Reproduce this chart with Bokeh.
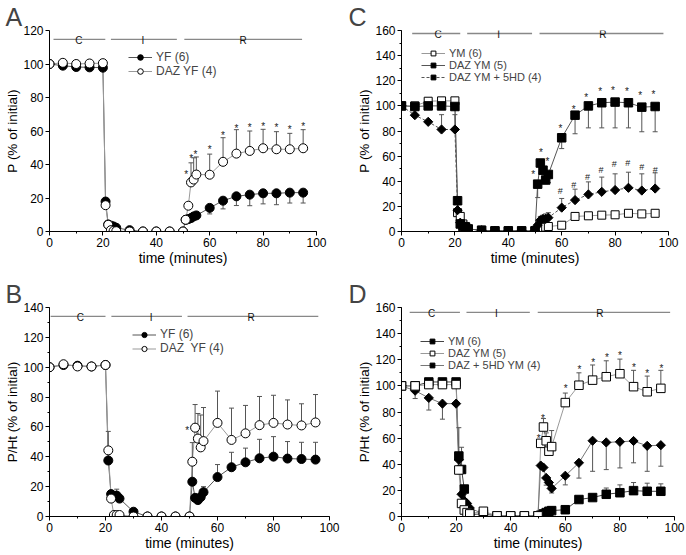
from bokeh.plotting import figure
from bokeh.layouts import column, row
from bokeh.models import SingleIntervalTicker, Range1d, Legend, LegendItem
from bokeh.embed import file_html
from bokeh.resources import INLINE
from bokeh.core.properties import value

FONT = "Liberation Sans"

# ---------------- data ----------------
time = [0, 5, 10, 15, 20, 21, 22, 23, 24, 25, 30, 35, 40, 45, 50,
        51, 52, 53, 54, 55, 60, 65, 70, 75, 80, 85, 90, 95]

# Panel A : P (% of initial)
A_YF = [100, 99, 98.2, 98, 97.8, 17.9, 4.2, 3.5, 3, 2.2, 0.8, 0, 0, 0, 0,
        7, 7.4, 8, 9, 9.6, 14.1, 18.4, 21, 22, 22.8, 22.8, 23.2, 23.2]
A_YF_err_t = [60, 65, 70, 75, 80, 85, 90, 95]
A_YF_err = [10.5, 13.5, 15.5, 15.4, 16.5, 16, 17, 17]
A_DAZ = [100, 100.7, 100, 100.3, 100.5, 15.7, 4, 0.8, 0.3, 0.2, 0, 0, 0, 0, 0,
         7, 15.4, 29.3, 31, 34, 33.9, 41.6, 46.5, 48.1, 49.7, 49.1, 49.1, 49.7]
A_DAZ_err_t = [53, 54, 55, 60, 65, 70, 75, 80, 85, 90, 95]
A_DAZ_err = [41, 44, 44.5, 46.2, 56, 60.8, 60, 61, 59.6, 58.6, 60.8]
A_star_t = [51.2, 53.1, 54.7, 60, 65, 70, 75, 80, 85, 90, 95]
A_star_y = [35.8, 45.2, 47.7, 50.5, 59, 63, 63.6, 64.6, 64, 62.4, 64.4]

# Panel B : P/Ht (% of initial)
B_YF = [100, 101.5, 101, 100.5, 101.5, 37.5, 15, 13.9, 14, 12, 3.2, 0, 0, 0, 0,
        23.3, 12.5, 11, 13, 16.3, 26.4, 33, 36.3, 39, 40.1, 38.8, 38.5, 38.1]
B_YF_err_t = [21, 24, 51, 55, 60, 65, 70, 75, 80, 85, 90, 95]
B_YF_err = [57, 18.3, 49.5, 20, 34.8, 43, 45.8, 51.7, 53.5, 50.2, 49.7, 49.7]
B_DAZ = [100, 102, 100.5, 100.5, 101.5, 44.3, 12, 1, 1, 1, 0, 0, 0, 0, 0,
         36.7, 59.5, 52.2, 46.3, 50.5, 62.7, 51.3, 55.7, 61.2, 62.7, 61.6, 61, 63]
B_DAZ_err_t = [5, 20, 52, 53, 54, 55, 60, 65, 70, 75, 80, 85, 90, 95]
B_DAZ_err = [103.5, 103, 75, 69, 68, 73, 84, 72.6, 74.4, 80.4, 81.2, 78.1, 75.5, 81.7]
B_star_t = [49.2]
B_star_y = [59.6]

# Panel C : P (% of initial)
C_YM = [100, 100, 103.7, 104, 104, 15, 12, 6, 4, 2, 1, 0.5, 0.5, 0.5, 0.5,
        1, 2, 3, 3.5, 4, 5, 12, 12.5, 13, 13.3, 14.5, 14, 14.5]
C_YM_err_t = [22, 65, 70, 75, 80, 85, 90, 95]
C_YM_err = [15, 14, 14.5, 15, 15.3, 17, 16, 16.5]
C_DAZ = [100, 99.5, 100, 100, 99.5, 24.5, 6, 4, 3, 2, 1, 0.5, 0.5, 0.5, 0.5,
         37.7, 54.5, 48.8, 41, 45.4, 74.6, 92.6, 100, 102.5, 103, 102.5, 99, 99.5]
C_DAZ_err_t = [51, 54, 55, 60, 65, 70, 75, 80, 85, 90, 95]
C_DAZ_err = [27, 38, 39, 66, 77.8, 82.5, 82.5, 82.5, 82.5, 79.4, 79.4]
C_5HD = [100, 92.6, 87.3, 81.2, 81.2, 17, 7, 5, 3, 2, 1, 0.5, 0.5, 0.5, 0.5,
         5, 9, 10, 10, 11, 19, 25, 29.5, 31.6, 33, 34.8, 32.6, 34.2]
C_5HD_err_t = [15, 20, 52, 53, 54, 55, 60, 65, 70, 75, 80, 85, 90, 95]
C_5HD_err = [93, 93, 12, 13, 14, 15, 26.3, 33.7, 39.5, 43.3, 45.9, 47.2, 45.9, 46.7]
C_star_t = [49.3, 52.2, 54.7, 59.5, 64.5, 69.2, 74.4, 79.2, 84.4, 89.4, 94.4]
C_star_y = [47.8, 65.5, 57.8, 84, 99.5, 108.8, 114.1, 114.6, 113.6, 111, 111.5]
C_hash_t = [59.5, 64.5, 69.7, 74.7, 79.7, 84.7, 90, 95]
C_hash_y = [32.4, 37.1, 43.2, 48.8, 53.9, 54.6, 51.7, 49.1]

# Panel D : P/Ht (% of initial)
D_YM = [100, 100, 103, 103, 103, 46.3, 36, 21, 5, 1.5, 2, 0.5, 0.5, 0.5, 0.5,
        1, 2, 3, 4, 4.5, 5.2, 13, 14.5, 17, 18.2, 19.8, 19.3, 19.3]
D_YM_err_t = [21, 22, 75, 80, 85, 90, 95]
D_YM_err = [68, 53, 21.8, 24.2, 26, 25.5, 25]
D_DAZ = [100, 100, 101, 101, 101, 35.6, 10, 5, 3, 2, 4, 0.5, 0.5, 0.5, 0.5,
         56, 68.5, 58, 50, 53.5, 87.2, 100.5, 104.4, 107, 109.3, 99.4, 95.5, 98.1]
D_DAZ_err_t = [52, 53, 55, 60, 65, 70, 75, 80, 85, 90, 95]
D_DAZ_err = [75, 64, 65.8, 94.5, 110, 116, 119.2, 120.5, 111.9, 107.5, 111.9]
D_5HD = [100, 96.3, 90.8, 86.4, 86.4, 43.4, 17, 12, 10, 6.5, 2, 0.5, 0.5, 0.5, 0.5,
         39, 37.5, 29.5, 26, 21.5, 31.2, 41.1, 58, 56.7, 57.2, 57.8, 54.1, 54.6]
D_5HD_err_t = [5, 10, 15, 53, 55, 60, 65, 70, 75, 80, 85, 90, 95]
D_5HD_err = [90.3, 81.5, 74.5, 24, 18, 24.2, 29.4, 34.6, 35.9, 37.2, 41.1, 34.6, 38.5]
D_star_t = [50.3, 51.8, 60.1, 65.2, 70.2, 75.3, 80, 85.1, 90, 95.2]
D_star_y = [62, 77.5, 100.5, 114.5, 120, 124.4, 125.7, 116.6, 111.9, 115.8]

# protocol periods (Control / Ischemia / Reperfusion)
phase_labels = ["C", "I", "R"]
A_phase_start = [1.5, 23, 50.5]
A_phase_end = [20.9, 47.7, 94.6]
A_phase_mid = [11, 35, 72.5]
B_phase_start = [0.4, 22.1, 49.3]
B_phase_end = [20, 47.3, 96]
B_phase_mid = [11, 36.3, 72]
C_phase_start = [4, 24.6, 51.7]
C_phase_end = [22, 48.9, 98.1]
C_phase_mid = [13.7, 36.4, 75.4]
D_phase_start = [3, 23.8, 49.9]
D_phase_end = [21.4, 47, 98.4]
D_phase_mid = [11, 34.8, 72.7]

ERR_COLOR = "#555555"


def make_fig(width, height, ymax, yminor, borders, ylabel, letter, letter_off):
    l, r, t, b = borders
    p = figure(width=width, height=height, x_range=Range1d(0, 100), y_range=Range1d(0, ymax),
               output_backend="svg", toolbar_location=None, title=letter,
               min_border_left=l, min_border_right=r, min_border_top=t, min_border_bottom=b)
    p.title.text_font = FONT
    p.title.text_font_size = "25px"
    p.title.text_font_style = "normal"
    p.title.standoff = 0
    p.title.offset = letter_off
    p.outline_line_color = None
    p.grid.visible = False
    p.background_fill_color = "white"
    p.border_fill_color = "white"
    p.xaxis.ticker = SingleIntervalTicker(interval=20, num_minor_ticks=2)
    p.yaxis.ticker = SingleIntervalTicker(interval=20, num_minor_ticks=yminor)
    p.xaxis.axis_label = "time (minutes)"
    p.yaxis.axis_label = ylabel
    for ax in p.axis:
        ax.axis_line_color = "black"
        ax.major_tick_line_color = "black"
        ax.minor_tick_line_color = "black"
        ax.major_tick_in = 0
        ax.major_tick_out = 4
        ax.minor_tick_in = 0
        ax.minor_tick_out = 2
        ax.major_label_text_font = FONT
        ax.major_label_text_font_size = "12px"
        ax.major_label_text_color = "black"
        ax.major_label_standoff = 2
        ax.axis_label_text_font = FONT
        ax.axis_label_text_font_style = "normal"
        ax.axis_label_text_color = "black"
        ax.axis_label_standoff = 0
    p.xaxis.axis_label_text_font_size = "14px"
    p.yaxis.axis_label_text_font_size = "13.5px"
    return p


def phases(p, ybar, starts, ends, mids):
    p.segment(x0=starts, y0=[ybar] * 3, x1=ends, y1=[ybar] * 3, line_color="#888888", line_width=1.3)
    p.text(x=mids, y=[ybar] * 3, text=phase_labels, text_font=value(FONT), text_font_size="10px",
           text_align="center", text_baseline="alphabetic", y_offset=1, text_color="#111111")


def errbars(p, vals, et, eb):
    y0 = [vals[time.index(x)] for x in et]
    p.segment(x0=et, y0=y0, x1=et, y1=eb, line_color=ERR_COLOR, line_width=1)
    p.scatter(et, eb, marker="dash", size=5, line_color=ERR_COLOR, line_width=1)


def line(p, vals, color, dash="solid"):
    return p.line(time, vals, line_color=color, line_width=1, line_dash=dash)


def marks(p, vals, marker, fill, size, angle=0.0):
    return p.scatter(time, vals, marker=marker, size=size, fill_color=fill, line_color="black",
                     line_width=1, angle=angle)


def signs(p, xs, ys, ch, size, yoff):
    p.text(x=xs, y=ys, text=[ch] * len(xs), text_font=value(FONT), text_font_size=size,
           text_align="center", text_baseline="middle", y_offset=yoff, text_color="#222222")


def legend(p, items, loc, fs, h):
    leg = Legend(items=[LegendItem(label=lab, renderers=rs) for lab, rs in items], location=loc,
                 border_line_color=None, background_fill_alpha=0, padding=0, margin=0, spacing=0,
                 label_standoff=4, glyph_width=24, glyph_height=h, label_height=h,
                 label_text_font=FONT, label_text_font_size=fs)
    p.add_layout(leg)


DIAM = 0.785398

# ---------------- Panel A ----------------
pA = make_fig(343, 270, 120, 0, (49, 27, 19, 39), "P (% of initial)", "A", -44)
phases(pA, 114.7, A_phase_start, A_phase_end, A_phase_mid)
lA1 = line(pA, A_YF, "#555555")
lA2 = line(pA, A_DAZ, "#999999")
errbars(pA, A_YF, A_YF_err_t, A_YF_err)
errbars(pA, A_DAZ, A_DAZ_err_t, A_DAZ_err)
mA1 = marks(pA, A_YF, "circle", "black", 9)
mA2 = marks(pA, A_DAZ, "circle", "white", 9)
signs(pA, A_star_t, A_star_y, "*", "10px", 3)
legend(pA, [("YF (6)", [lA1, mA1]), ("DAZ YF (4)", [lA2, mA2])], (79, 153), "12px", 14)

# ---------------- Panel C ----------------
pC = make_fig(343, 270, 160, 2, (58, 18, 22, 37), "P (% of initial)", "C", -53)
phases(pC, 157.6, C_phase_start, C_phase_end, C_phase_mid)
lC1 = line(pC, C_YM, "#999999")
lC2 = line(pC, C_DAZ, "#555555")
lC3 = line(pC, C_5HD, "#555555", "3 2")
errbars(pC, C_YM, C_YM_err_t, C_YM_err)
errbars(pC, C_DAZ, C_DAZ_err_t, C_DAZ_err)
errbars(pC, C_5HD, C_5HD_err_t, C_5HD_err)
mC1 = marks(pC, C_YM, "square", "white", 8)
mC2 = marks(pC, C_DAZ, "square", "black", 8.5)
mC3 = marks(pC, C_5HD, "square", "black", 6.5, DIAM)
signs(pC, C_star_t, C_star_y, "*", "10px", 3)
signs(pC, C_hash_t, C_hash_y, "#", "9px", 0)
legend(pC, [("YM (6)", [lC1, mC1]), ("DAZ YM (5)", [lC2, mC2]),
            ("DAZ YM + 5HD (4)", [lC3, mC3])], (20, 148), "11px", 12)

# ---------------- Panel B ----------------
pB = make_fig(343, 285, 140, 2, (49, 14, 34, 39), "P/Ht (% of initial)", "B", -44)
phases(pB, 134, B_phase_start, B_phase_end, B_phase_mid)
lB1 = line(pB, B_YF, "#555555")
lB2 = line(pB, B_DAZ, "#999999")
errbars(pB, B_YF, B_YF_err_t, B_YF_err)
errbars(pB, B_DAZ, B_DAZ_err_t, B_DAZ_err)
mB1 = marks(pB, B_YF, "circle", "black", 9)
mB2 = marks(pB, B_DAZ, "circle", "white", 9)
signs(pB, B_star_t, B_star_y, "*", "10px", 3)
legend(pB, [("YF (6)", [lB1, mB1]), ("DAZ  YF (4)", [lB2, mB2])], (83, 161), "12px", 13)

# ---------------- Panel D ----------------
pD = make_fig(343, 285, 160, 2, (58, 12, 37, 39), "P/Ht (% of initial)", "D", -53)
phases(pD, 156.2, D_phase_start, D_phase_end, D_phase_mid)
lD1 = line(pD, D_YM, "#444444")
lD2 = line(pD, D_DAZ, "#999999")
lD3 = line(pD, D_5HD, "#777777")
errbars(pD, D_YM, D_YM_err_t, D_YM_err)
errbars(pD, D_DAZ, D_DAZ_err_t, D_DAZ_err)
errbars(pD, D_5HD, D_5HD_err_t, D_5HD_err)
mD3 = marks(pD, D_5HD, "square", "black", 6.5, DIAM)
mD1 = marks(pD, D_YM, "square", "black", 8.5)
mD2 = marks(pD, D_DAZ, "square", "white", 8.5)
signs(pD, D_star_t, D_star_y, "*", "10px", 3)
legend(pD, [("YM (6)", [lD1, mD1]), ("DAZ YM (5)", [lD2, mD2]),
            ("DAZ + 5HD YM (4)", [lD3, mD3])], (19, 145), "11px", 12)

layout = column(row(pA, pC), row(pB, pD))

with open("out.html", "w") as f:
    f.write(file_html(layout, INLINE))
